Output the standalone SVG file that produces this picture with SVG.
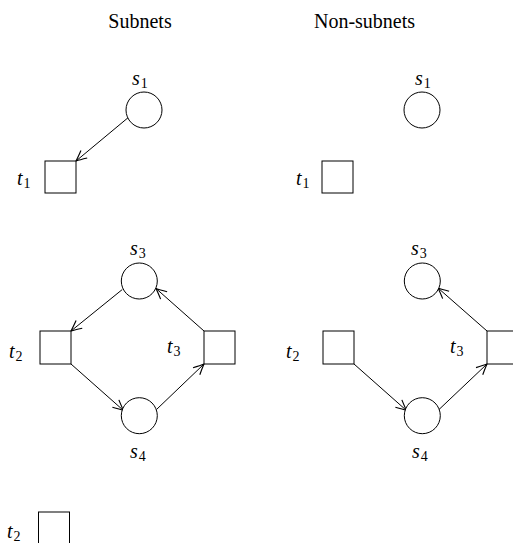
<svg xmlns="http://www.w3.org/2000/svg" width="513" height="543" viewBox="0 0 513 543">
<style>
.title{font-family:"Liberation Serif",serif;font-size:20px;fill:#000}
.lbl{font-family:"Liberation Serif",serif;font-size:20px;font-style:italic;fill:#000}
.sub{font-style:normal;font-size:14px}
.place{fill:#fff;stroke:#000;stroke-width:1}
.trans{fill:#fff;stroke:#000;stroke-width:1}
.arc{fill:none;stroke:#000;stroke-width:1;marker-end:url(#ah)}
</style>
<defs>
<marker id="ah" markerUnits="userSpaceOnUse" markerWidth="14" markerHeight="14" viewBox="-10 -6 12 12" refX="0" refY="0" orient="auto">
<path d="M-9,-4.2 Q-3,-1.2 0,0 Q-3,1.2 -9,4.2" fill="none" stroke="#000" stroke-width="1"/>
</marker>
</defs>
<rect width="513" height="543" fill="#fff"/>
<text class="title" x="140" y="28" text-anchor="middle">Subnets</text>
<text class="title" x="364.5" y="28" text-anchor="middle">Non-subnets</text>

<g id="connectors">
<line class="arc" x1="128.3" y1="117.5" x2="76" y2="161"/>
<line class="arc" x1="122.3" y1="289.5" x2="71" y2="331"/>
<line class="arc" x1="71" y1="364" x2="123.5" y2="410.5"/>
<line class="arc" x1="156.5" y1="409.5" x2="204" y2="364"/>
<line class="arc" x1="204" y1="331" x2="156" y2="288.5"/>
<line class="arc" x1="354" y1="364" x2="406.5" y2="410.5"/>
<line class="arc" x1="439" y1="409.5" x2="487" y2="364"/>
<line class="arc" x1="487" y1="331" x2="438" y2="288"/>
</g>

<g id="L_s1"><circle class="place" cx="144" cy="110" r="18"/><text class="lbl" x="132" y="85">s<tspan class="sub" dx="1" dy="3">1</tspan></text></g>
<g id="L_t1"><rect class="trans" x="45" y="161" width="31" height="32"/><text class="lbl" x="17" y="185">t<tspan class="sub" dx="1" dy="3">1</tspan></text></g>
<g id="L_s3"><circle class="place" cx="139.3" cy="281" r="18"/><text class="lbl" x="130" y="255">s<tspan class="sub" dx="1" dy="3">3</tspan></text></g>
<g id="L_t2"><rect class="trans" x="40" y="331" width="31" height="33"/><text class="lbl" x="9" y="358">t<tspan class="sub" dx="1" dy="3">2</tspan></text></g>
<g id="L_t3"><rect class="trans" x="204" y="331" width="31" height="33"/><text class="lbl" x="167" y="353">t<tspan class="sub" dx="1" dy="3">3</tspan></text></g>
<g id="L_s4"><circle class="place" cx="139.3" cy="415.7" r="18"/><text class="lbl" x="130" y="458">s<tspan class="sub" dx="1" dy="3">4</tspan></text></g>

<g id="R_s1"><circle class="place" cx="422" cy="110" r="18"/><text class="lbl" x="415" y="85">s<tspan class="sub" dx="1" dy="3">1</tspan></text></g>
<g id="R_t1"><rect class="trans" x="322" y="161" width="31" height="32"/><text class="lbl" x="296" y="185">t<tspan class="sub" dx="1" dy="3">1</tspan></text></g>
<g id="R_s3"><circle class="place" cx="422.3" cy="281" r="18"/><text class="lbl" x="411" y="255">s<tspan class="sub" dx="1" dy="3">3</tspan></text></g>
<g id="R_t2"><rect class="trans" x="323" y="331" width="31" height="33"/><text class="lbl" x="286" y="358">t<tspan class="sub" dx="1" dy="3">2</tspan></text></g>
<g id="R_t3"><rect class="trans" x="487" y="331" width="31" height="33"/><text class="lbl" x="450" y="353">t<tspan class="sub" dx="1" dy="3">3</tspan></text></g>
<g id="R_s4"><circle class="place" cx="422.3" cy="415.7" r="18"/><text class="lbl" x="412" y="458">s<tspan class="sub" dx="1" dy="3">4</tspan></text></g>

<g id="B_t2"><rect class="trans" x="38.5" y="512" width="31" height="40"/><text class="lbl" x="7" y="538">t<tspan class="sub" dx="1" dy="3">2</tspan></text></g>
</svg>
